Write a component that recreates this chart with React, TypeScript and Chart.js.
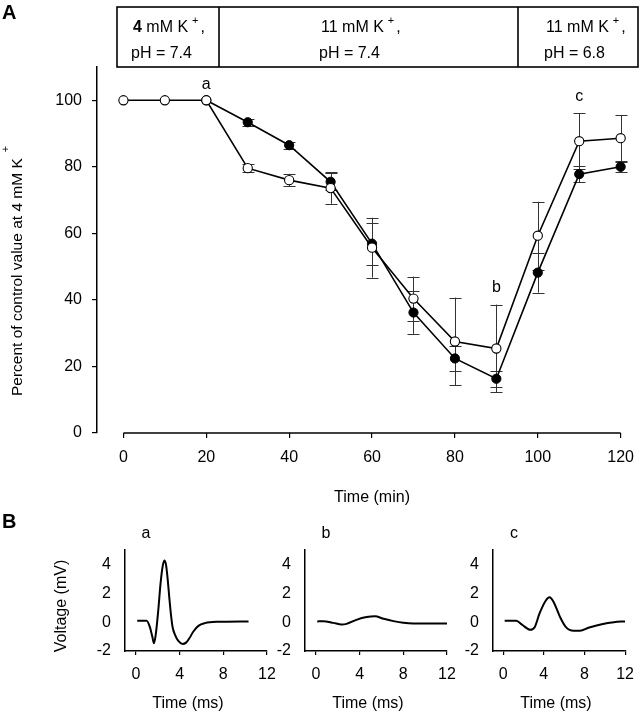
import React, { useEffect, useRef } from "react";
import { Chart, registerables } from "chart.js";
Chart.register(...registerables);

const FONT = "'Liberation Sans', Arial, Helvetica, sans-serif";

// ---------- Panel A data ----------
const timeMin = [0, 10, 20, 30, 40, 50, 60, 70, 80, 90, 100, 110, 120];
const openValues = [100, 100, 100, 79.6, 76, 73.6, 55.7, 40.4, 27.5, 25.4, 59.3, 87.7, 88.6];
const openErrors = [0, 0, 0, 1.3, 1.9, 4.7, 9, 6.6, 13.2, 13.2, 10.2, 8.4, 7];
const filledValues: (number | null)[] = [null, null, 100, 93.4, 86.5, 75.5, 56.9, 36.2, 22.4, 16.3, 48.2, 77.8, 80];
const filledErrors = [0, 0, 0, 1, 1, 2.6, 6.3, 6.4, 3.8, 2.4, 6, 2.4, 1.5];
const timeTicks = [0, 20, 40, 60, 80, 100, 120];
const percentTicks = [0, 20, 40, 60, 80, 100];
const conditionK = ["4 mM K", "11 mM K", "11 mM K"];
const conditionPH = ["pH = 7.4", "pH = 7.4", "pH = 6.8"];
const markLabels = ["a", "b", "c"];
const markTimes = [20, 90, 110];
const markValues = [104.7, 43.6, 101];

// ---------- Panel B data ----------
const traceATime = [0.12, 0.98, 1.28, 1.5, 1.65, 1.83, 2.05, 2.26, 2.45, 2.6, 2.75, 2.91, 3.06, 3.21, 3.36, 3.58, 3.88, 4.28, 4.59, 4.89, 5.26, 5.72, 6.33, 7.4, 10.31];
const traceAVolt = [0.09, 0.09, -0.35, -1.0, -1.47, -0.77, 0.86, 2.72, 3.88, 4.28, 4.0, 2.95, 1.67, 0.51, -0.35, -0.88, -1.3, -1.51, -1.42, -1.12, -0.65, -0.26, -0.07, 0.02, 0.05];
const traceBTime = [0.12, 0.67, 1.6, 2.35, 2.8, 3.7, 4.65, 5.4, 6.2, 7.1, 8.0, 8.9, 10.5, 12.1];
const traceBVolt = [0.05, 0.07, -0.05, -0.16, -0.12, 0.16, 0.35, 0.4, 0.23, 0.07, -0.05, -0.1, -0.1, -0.1];
const traceCTime = [0.15, 1.28, 1.9, 2.66, 3.1, 3.58, 4.2, 4.55, 4.95, 5.57, 6.18, 6.94, 7.55, 8.47, 9.7, 10.9, 12.0];
const traceCVolt = [0.1, 0.1, -0.2, -0.53, -0.35, 0.6, 1.5, 1.72, 1.42, 0.4, -0.35, -0.6, -0.6, -0.37, -0.14, 0, 0.05];
const msTicks = [0, 4, 8, 12];
const mvTicks = [-2, 0, 2, 4];
const panelLetters = ["a", "b", "c"];

const W = 644;
const H = 720;
const FS = 16;

function drawSupText(ctx: CanvasRenderingContext2D, base: string, x: number, y: number, size: number, boldFirst: boolean) {
  ctx.textAlign = "left";
  ctx.textBaseline = "middle";
  let cx = x;
  if (boldFirst) {
    const sp = base.indexOf(" ");
    const first = base.slice(0, sp);
    const rest = base.slice(sp);
    ctx.font = `bold ${size}px ${FONT}`;
    ctx.fillText(first, cx, y);
    cx += ctx.measureText(first).width;
    ctx.font = `${size}px ${FONT}`;
    ctx.fillText(rest, cx, y);
    cx += ctx.measureText(rest).width;
  } else {
    ctx.font = `${size}px ${FONT}`;
    ctx.fillText(base, cx, y);
    cx += ctx.measureText(base).width;
  }
  cx += 4;
  ctx.font = `${Math.round(size * 0.7)}px ${FONT}`;
  ctx.fillText("+", cx, y - 7);
  cx += ctx.measureText("+").width + 2;
  ctx.font = `${size}px ${FONT}`;
  ctx.fillText(",", cx, y);
}

const errorBarPlugin = {
  id: "errorBars",
  beforeDatasetsDraw(chart: any) {
    const { ctx } = chart;
    const xs = chart.scales.x;
    const ys = chart.scales.y;
    const series: [(number | null)[], number[]][] = [
      [filledValues, filledErrors],
      [openValues, openErrors],
    ];
    ctx.save();
    ctx.strokeStyle = "#333";
    ctx.lineWidth = 1;
    for (const [vals, errs] of series) {
      timeMin.forEach((t, i) => {
        const v = vals[i];
        const e = errs[i];
        if (v == null || !e) return;
        const px = Math.round(xs.getPixelForValue(t)) + 0.5;
        const top = ys.getPixelForValue(v + e);
        const bot = ys.getPixelForValue(v - e);
        ctx.beginPath();
        ctx.moveTo(px, top);
        ctx.lineTo(px, bot);
        ctx.moveTo(px - 6, Math.round(top) + 0.5);
        ctx.lineTo(px + 6, Math.round(top) + 0.5);
        ctx.moveTo(px - 6, Math.round(bot) + 0.5);
        ctx.lineTo(px + 6, Math.round(bot) + 0.5);
        ctx.stroke();
      });
    }
    ctx.restore();
  },
};

const mainTextPlugin = {
  id: "mainText",
  afterDraw(chart: any) {
    const { ctx, chartArea } = chart;
    const xs = chart.scales.x;
    const ys = chart.scales.y;
    ctx.save();
    ctx.fillStyle = "#000";
    ctx.strokeStyle = "#000";

    // x axis line from 0 to 120
    ctx.lineWidth = 1.5;
    ctx.beginPath();
    ctx.moveTo(xs.getPixelForValue(timeTicks[0]), chartArea.bottom);
    ctx.lineTo(xs.getPixelForValue(timeTicks[timeTicks.length - 1]), chartArea.bottom);
    ctx.stroke();

    // Panel letters
    ctx.font = `bold 20px ${FONT}`;
    ctx.textAlign = "left";
    ctx.textBaseline = "middle";
    ctx.fillText("A", 2, 13);
    ctx.fillText("B", 2, 522);

    // condition box
    ctx.lineWidth = 1.6;
    ctx.strokeRect(117, 7, 521, 60);
    ctx.beginPath();
    ctx.moveTo(219, 7);
    ctx.lineTo(219, 67);
    ctx.moveTo(518, 7);
    ctx.lineTo(518, 67);
    ctx.stroke();
    const boxX = [133, 321, 546];
    conditionK.forEach((k, i) => {
      drawSupText(ctx, k, boxX[i], 28, FS, i === 0);
      ctx.font = `${FS}px ${FONT}`;
      ctx.textAlign = "left";
      ctx.fillText(conditionPH[i], boxX[i] - 2, 54);
    });

    // trace markers a, b, c
    ctx.font = `${FS}px ${FONT}`;
    ctx.textAlign = "center";
    markLabels.forEach((l, i) => {
      ctx.fillText(l, xs.getPixelForValue(markTimes[i]), ys.getPixelForValue(markValues[i]));
    });

    // x title
    ctx.fillText("Time (min)", (xs.getPixelForValue(0) + xs.getPixelForValue(120)) / 2, 498);

    // y title
    ctx.translate(18, 396);
    ctx.rotate(-Math.PI / 2);
    ctx.textAlign = "left";
    ctx.font = `15.5px ${FONT}`;
    const yt = "Percent of control value at 4 mM K";
    ctx.fillText(yt, 0, 0);
    const w = ctx.measureText(yt).width;
    ctx.font = `11px ${FONT}`;
    ctx.fillText("+", w + 6, -12);
    ctx.restore();
  },
};

function mainConfig(): any {
  return {
    type: "scatter",
    data: {
      datasets: [
        {
          label: "open",
          data: timeMin.map((t, i) => ({ x: t, y: openValues[i] })),
          showLine: true,
          clip: false,
          borderColor: "#000",
          borderWidth: 1.6,
          pointRadius: 4.6,
          pointBackgroundColor: "#fff",
          pointBorderColor: "#000",
          pointBorderWidth: 1.1,
        },
        {
          label: "filled",
          data: timeMin
            .map((t, i) => ({ x: t, y: filledValues[i] }))
            .filter((p) => p.y != null),
          showLine: true,
          clip: false,
          borderColor: "#000",
          borderWidth: 1.6,
          pointRadius: 4.6,
          pointBackgroundColor: "#000",
          pointBorderColor: "#000",
          pointBorderWidth: 1,
        },
      ],
    },
    options: {
      responsive: false,
      animation: false,
      devicePixelRatio: 1,
      layout: { padding: { left: 0, top: 67, right: 12, bottom: H - 433 - 80 } },
      plugins: { legend: { display: false }, tooltip: { enabled: false } },
      scales: {
        x: {
          type: "linear",
          min: -6.38,
          max: 120,
          afterBuildTicks: (s: any) => {
            s.ticks = timeTicks.map((v) => ({ value: v }));
          },
          afterFit: (s: any) => {
            s.height = 80;
          },
          grid: { drawOnChartArea: false, drawTicks: true, tickLength: 5, color: "#000", lineWidth: 1.2 },
          border: { display: false },
          ticks: { color: "#000", font: { family: FONT, size: FS }, padding: 10, maxRotation: 0 },
        },
        y: {
          min: 0,
          max: 110,
          afterBuildTicks: (s: any) => {
            s.ticks = percentTicks.map((v) => ({ value: v }));
          },
          afterFit: (s: any) => {
            s.width = 97;
          },
          grid: { drawOnChartArea: false, drawTicks: true, tickLength: 5, color: "#000", lineWidth: 1.2 },
          border: { display: true, color: "#000", width: 1.5 },
          ticks: { color: "#000", font: { family: FONT, size: FS }, padding: 10 },
        },
      },
    },
    plugins: [errorBarPlugin, mainTextPlugin],
  };
}

function panelConfig(ts: number[], vs: number[], left: number, idx: number): any {
  const right = left + 142;
  return {
    type: "scatter",
    data: {
      datasets: [
        {
          data: ts.map((t, i) => ({ x: t, y: vs[i] })),
          showLine: true,
          borderColor: "#000",
          borderWidth: 2,
          pointRadius: 0,
          tension: 0.4,
          cubicInterpolationMode: "monotone",
        },
      ],
    },
    options: {
      responsive: false,
      animation: false,
      devicePixelRatio: 1,
      layout: { padding: { left: left - 60, top: 550, right: W - right, bottom: H - 651 - 60 } },
      plugins: { legend: { display: false }, tooltip: { enabled: false } },
      scales: {
        x: {
          type: "linear",
          min: -1,
          max: 12,
          afterBuildTicks: (s: any) => {
            s.ticks = msTicks.map((v) => ({ value: v }));
          },
          afterFit: (s: any) => {
            s.height = 60;
          },
          grid: { drawOnChartArea: false, drawTicks: true, tickLength: 4, color: "#000", lineWidth: 1.2 },
          border: { display: true, color: "#000", width: 1.5 },
          ticks: { color: "#000", font: { family: FONT, size: FS }, padding: 10, maxRotation: 0 },
        },
        y: {
          min: -2,
          max: 5,
          afterBuildTicks: (s: any) => {
            s.ticks = mvTicks.map((v) => ({ value: v }));
          },
          afterFit: (s: any) => {
            s.width = 60;
          },
          grid: { display: false, drawTicks: false },
          border: { display: true, color: "#000", width: 1.5 },
          ticks: { color: "#000", font: { family: FONT, size: FS }, padding: 14 },
        },
      },
    },
    plugins: [
      {
        id: "panelText" + idx,
        afterDraw(chart: any) {
          const { ctx } = chart;
          ctx.save();
          ctx.fillStyle = "#000";
          ctx.font = `${FS}px ${FONT}`;
          ctx.textAlign = "center";
          ctx.textBaseline = "middle";
          ctx.fillText(panelLetters[idx], left + 21, 534);
          ctx.fillText("Time (ms)", left + 63, 704);
          if (idx === 0) {
            ctx.translate(62, 606);
            ctx.rotate(-Math.PI / 2);
            ctx.font = `16px ${FONT}`;
            ctx.fillText("Voltage (mV)", 0, 0);
          }
          ctx.restore();
        },
      },
    ],
  };
}

export default function App() {
  const mainRef = useRef<HTMLCanvasElement>(null);
  const aRef = useRef<HTMLCanvasElement>(null);
  const bRef = useRef<HTMLCanvasElement>(null);
  const cRef = useRef<HTMLCanvasElement>(null);

  useEffect(() => {
    const charts: Chart[] = [];
    if (mainRef.current) charts.push(new Chart(mainRef.current, mainConfig()));
    if (aRef.current) charts.push(new Chart(aRef.current, panelConfig(traceATime, traceAVolt, 125, 0)));
    if (bRef.current) charts.push(new Chart(bRef.current, panelConfig(traceBTime, traceBVolt, 305, 1)));
    if (cRef.current) charts.push(new Chart(cRef.current, panelConfig(traceCTime, traceCVolt, 493, 2)));
    return () => charts.forEach((c) => c.destroy());
  }, []);

  const cs: React.CSSProperties = { position: "absolute", left: 0, top: 0, width: W, height: H };
  return (
    <div style={{ position: "absolute", left: 0, top: 0, width: W, height: H, background: "#fff" }}>
      <canvas ref={mainRef} width={W} height={H} style={cs} />
      <canvas ref={aRef} width={W} height={H} style={cs} />
      <canvas ref={bRef} width={W} height={H} style={cs} />
      <canvas ref={cRef} width={W} height={H} style={cs} />
    </div>
  );
}
